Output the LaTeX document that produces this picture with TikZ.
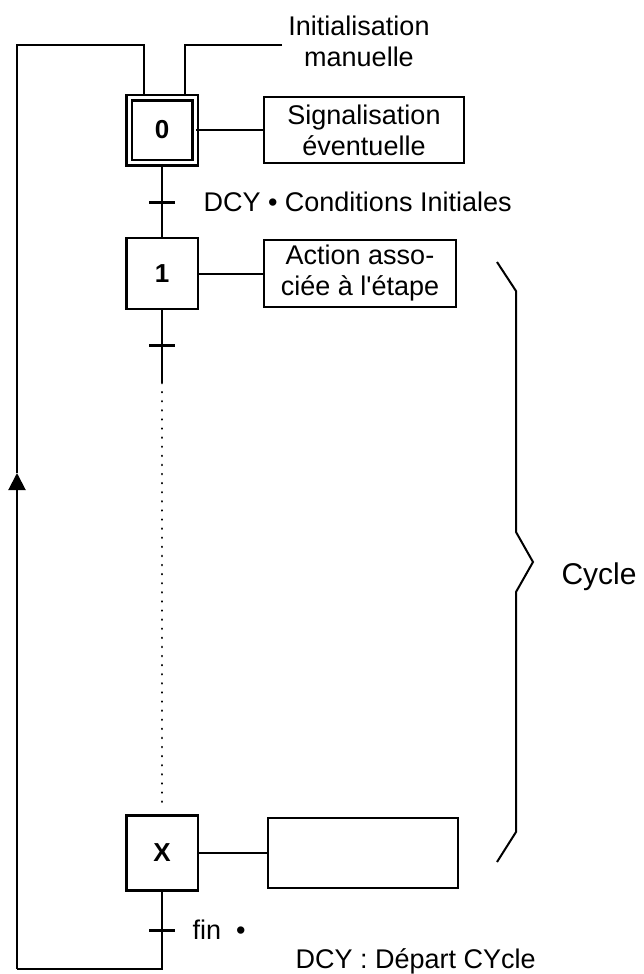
\documentclass[tikz,border=0pt]{standalone}
\usepackage{fontspec}
\newfontfamily\arial{Liberation Sans}
\newfontfamily\arialgras{Liberation Sans Bold}
\usetikzlibrary{arrows.meta}

\begin{document}
\begin{tikzpicture}[x=1pt,y=-1pt,
    every node/.style={font=\arial\fontsize{27}{31}\selectfont},
    etape/.style={draw,line width=2.5pt,minimum width=71.5pt,minimum height=71pt,inner sep=0pt,
        font=\arialgras\fontsize{26}{30}\selectfont},
    action/.style={draw,line width=2.5pt,align=center,inner sep=0pt},
    lien/.style={line width=2pt},
    barre/.style={line width=3pt}]
            \useasboundingbox (0,0) rectangle (643,974);

            % etapes
            \node[etape,double,double distance=3pt,minimum width=66pt,minimum height=65pt] (e0) at (162,130) {0};
            \node[etape] (e1) at (162,273.5) {1};
            \node[etape,minimum height=75pt] (eX) at (162,853) {X};

            % actions
            \node[action,minimum width=200pt,minimum height=66pt] (a0) at (364,130) {Signalisation\\éventuelle};
            \node[action,minimum width=192pt,minimum height=67pt] (a1) at (360,273.5) {Action asso-\\ciée à l'étape};
            \node[action,minimum width=190pt,minimum height=70pt] (aX) at (363,853) {};
            \draw[lien] (e0.east)--(a0.west);
            \draw[lien] (e1.east)--(a1.west);
            \draw[lien] (eX.east)--(aX.west);

            % liaisons et transitions
            \coordinate (t0) at (162,202);
            \coordinate (t1) at (162,345);
            \coordinate (tX) at (162,930);
            \coordinate (d1) at (162,383);
            \coordinate (d2) at (162,810);
            \draw[lien] (e0.south)--(e1.north);
            \draw[lien] (e1.south)--(d1);
            \draw[line width=2.5pt,line cap=round,dash pattern=on 0.1pt off 9pt] (d1)--(d2);
            \draw[barre] ([xshift=-13pt]t0)--([xshift=13pt]t0);
            \draw[barre] ([xshift=-13pt]t1)--([xshift=13pt]t1);
            \draw[barre] ([xshift=-13pt]tX)--([xshift=13pt]tX);
            \node[anchor=base west] (c0) at (200,211) {DCY • Conditions Initiales};
            \node[anchor=base west] (cX) at (189,939) {fin\hspace{15pt}•};

            % bouclage
            \coordinate (bas) at (162,969);
            \coordinate (basg) at (17,969);
            \coordinate (fl) at (17,473);
            \coordinate (hautg) at (17,45);
            \coordinate (hautd) at (144,45);
            \draw[lien] (eX.south)--(bas)--(basg);
            \draw[lien,-{Triangle[length=17pt,width=17pt]}] (basg)--(fl);
            \draw[lien] (fl)--(hautg)--(hautd)--(hautd |- e0.north);

            % initialisation manuelle
            \node[align=center] (im) at (359,41) {Initialisation\\manuelle};
            \coordinate (init) at (185,45);
            \coordinate (initd) at (282,45);
            \draw[lien] (initd)--(init)--(init |- e0.north);

            % cycle
            \draw[lien] (497,262)--(516,291)--(516,532)--(533,562)--(516,592)--(516,832)--(497,862);
            \node[anchor=base west,font=\arial\fontsize{30}{34}\selectfont] (cy) at (558,584) {Cycle};

            \node[anchor=base west] (dcy) at (292,968) {DCY : Départ CYcle};
        \end{tikzpicture}
\end{document}
